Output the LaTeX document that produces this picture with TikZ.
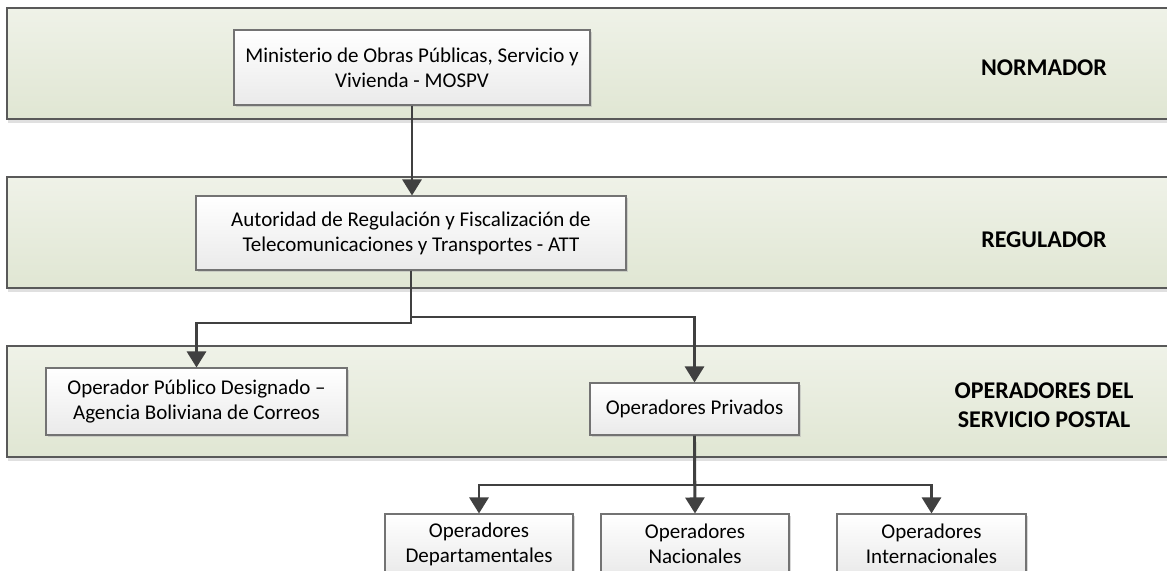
\documentclass[tikz,border=0pt]{standalone}
\usepackage{fontspec}
\setmainfont{Carlito}
\usetikzlibrary{arrows.meta,positioning,shadows}
\definecolor{bandtop}{RGB}{239,242,232}
\definecolor{bandbottom}{RGB}{224,230,211}
\definecolor{boxbottom}{RGB}{234,234,234}
\definecolor{linkgray}{RGB}{64,64,64}

\tikzset{
  band/.style={draw=black!65, line width=0.8pt, top color=bandtop, bottom color=bandbottom,
    inner sep=0pt, minimum width=586.5pt, minimum height=55.5pt,
    drop shadow={shadow xshift=0.6pt, shadow yshift=-2pt, fill=black!12, opacity=1}},
  entity/.style={draw=black!55, line width=0.55pt, top color=white, bottom color=boxbottom,
    align=center, inner sep=0pt, font=\fontsize{10.5}{12.4}\selectfont,
    drop shadow={shadow xshift=1.2pt, shadow yshift=-1.2pt, fill=black!30, opacity=0.5}},
  level/.style={align=center, font=\fontsize{12}{14.6}\selectfont\bfseries},
  link/.style={draw=linkgray, line width=1.45pt, -{Triangle[width=9.5pt,length=8pt]}}
}

\begin{document}
\begin{tikzpicture}[x=0.5pt,y=-0.5pt]
    \useasboundingbox (0,0) rectangle (1167,570);
    \clip (0,0) rectangle (1167,570);

    \node[band] (bandnorm) at (593.5,63.5) {};
    \node[band] (bandreg) at (593.5,232.5) {};
    \node[band] (bandop) at (593.5,401.5) {};

    \node[level] (normador) at (1044,68) {NORMADOR};
    \node[level] (regulador) at (1044,240) {REGULADOR};
    \node[level] (operadores) at (1044,405) {OPERADORES DEL\\SERVICIO POSTAL};

    \node[entity, minimum width=178pt, minimum height=37.5pt] (mospv) at (412,67.5)
        {Ministerio de Obras Públicas, Servicio y\\Vivienda - MOSPV};
    \node[entity, minimum width=215pt, minimum height=37pt] (att) at (411,233)
        {Autoridad de Regulación y Fiscalización de\\Telecomunicaciones y Transportes - ATT};
    \node[entity, minimum width=150.5pt, minimum height=33.5pt] (opd) at (196.5,401.5)
        {Operador Público Designado --\\Agencia Boliviana de Correos};
    \node[entity, minimum width=104.5pt, minimum height=26pt] (priv) at (694.5,409)
        {Operadores Privados};
    \node[entity, minimum width=94pt, minimum height=30pt] (dept) at (479,544)
        {Operadores\\Departamentales};
    \node[entity, minimum width=94pt, minimum height=30pt] (nac) at (695,544)
        {Operadores\\Nacionales};
    \node[entity, minimum width=94.5pt, minimum height=30pt] (intl) at (931.5,544)
        {Operadores\\Internacionales};

    \coordinate (attleft) at (att.south |- 0,323);
    \coordinate (attright) at (att.south |- 0,317);
    \coordinate (privsplit) at (priv.south |- 0,485);

    \draw[link] (mospv.south) -- (mospv.south |- att.north);
    \draw[link] (att.south) -- (attleft) -| (opd.north);
    \draw[link] (att.south) -- (attright) -| (priv.north);
    \draw[link] (priv.south) -- (privsplit) -| (dept.north);
    \draw[link] (priv.south) -- (nac.north);
    \draw[link] (privsplit) -| (intl.north);
\end{tikzpicture}
\end{document}
